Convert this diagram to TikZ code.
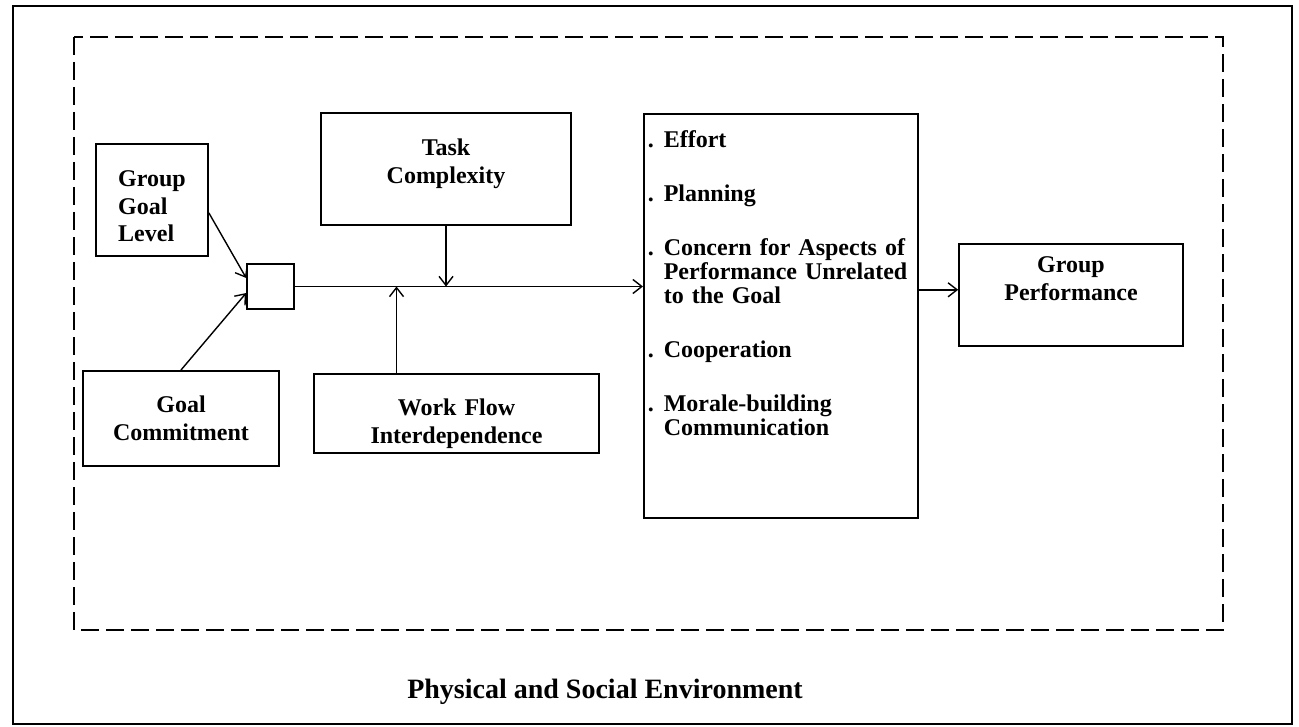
\documentclass[tikz,border=0pt]{standalone}
\usepackage{fontspec}
\setmainfont{Liberation Serif}
\usetikzlibrary{arrows.meta,calc}
\tikzset{
  box/.style={draw,rectangle,line width=0.8pt,inner sep=0pt,align=center,
    font=\fontsize{12}{13.8}\selectfont\bfseries},
  junc/.style={draw,rectangle,line width=0.8pt,inner sep=0pt,
    minimum width=23.5pt,minimum height=22.5pt},
  conn/.style={line width=0.7pt}
}

\begin{document}
\begin{tikzpicture}[x=0.5pt,y=-0.5pt,>={Straight Barb[length=4.5pt,width=7pt]}]
  \useasboundingbox (0,0) rectangle (1299,727);
  % frames
  \draw[line width=1.2pt] (13,6) rectangle (1292,724);
  \draw[line width=0.9pt,dash pattern=on 9pt off 3.5pt] (74,37) rectangle (1223,630);

  \node[box,anchor=north,text width=56pt,text height=21.5pt,text depth=34.5pt] (glevel) at (152,143)
    {\begin{tabular}[t]{@{}l@{}}Group\\Goal\\Level\end{tabular}};
  \node[box,anchor=north,text width=98pt,text height=21pt,text depth=26.5pt] (commit) at (181,370) {Goal\\Commitment};
  \node[junc] (junc) at (270.5,286.5) {};
  \node[box,anchor=north,text width=125pt,text height=21.5pt,text depth=34.5pt] (task) at (446,112) {Task\\Complexity};
  \node[box,anchor=north,text width=142.5pt,text height=21pt,text depth=18.5pt] (flow) at (456.5,373) {Work Flow\\Interdependence};
  \node[box,anchor=north west,align=left,inner xsep=2pt,text width=133pt,text height=17pt,text depth=185pt,
        font=\fontsize{12}{12}\selectfont\bfseries] (behav) at (643,113) {%
    \begin{tabular}[t]{@{}l@{\hspace{5pt}}l@{}}
      . & Effort\\[15pt]
      . & Planning\\[15pt]
      . & Concern for Aspects of\\
        & Performance Unrelated\\
        & to the Goal\\[15pt]
      . & Cooperation\\[15pt]
      . & Morale-building\\
        & Communication
    \end{tabular}};
  \node[box,anchor=north,text width=112pt,text height=14.5pt,text depth=36.5pt] (perf) at (1071,243) {Group\\Performance};
  \node[font=\fontsize{14}{16}\selectfont\bfseries] (env) at (605,692) {Physical and Social Environment};

  \draw[conn,->] ([yshift=-6.5pt]glevel.east) -- ([yshift=4.25pt]junc.west);
  \draw[conn,->] (commit.north) -- ([yshift=-3.25pt]junc.west);
  \draw[conn,->] (junc.east) -- (junc.east -| behav.west);
  \draw[conn,->] (task.south) -- (task.south |- junc.east);
  \draw[conn,->] ([xshift=-30pt]flow.north) -- ([xshift=-30pt]flow.north |- junc.east);
  \draw[conn,->] ([yshift=2.5pt]perf.west -| behav.east) -- ([yshift=2.5pt]perf.west);
\end{tikzpicture}
\end{document}
